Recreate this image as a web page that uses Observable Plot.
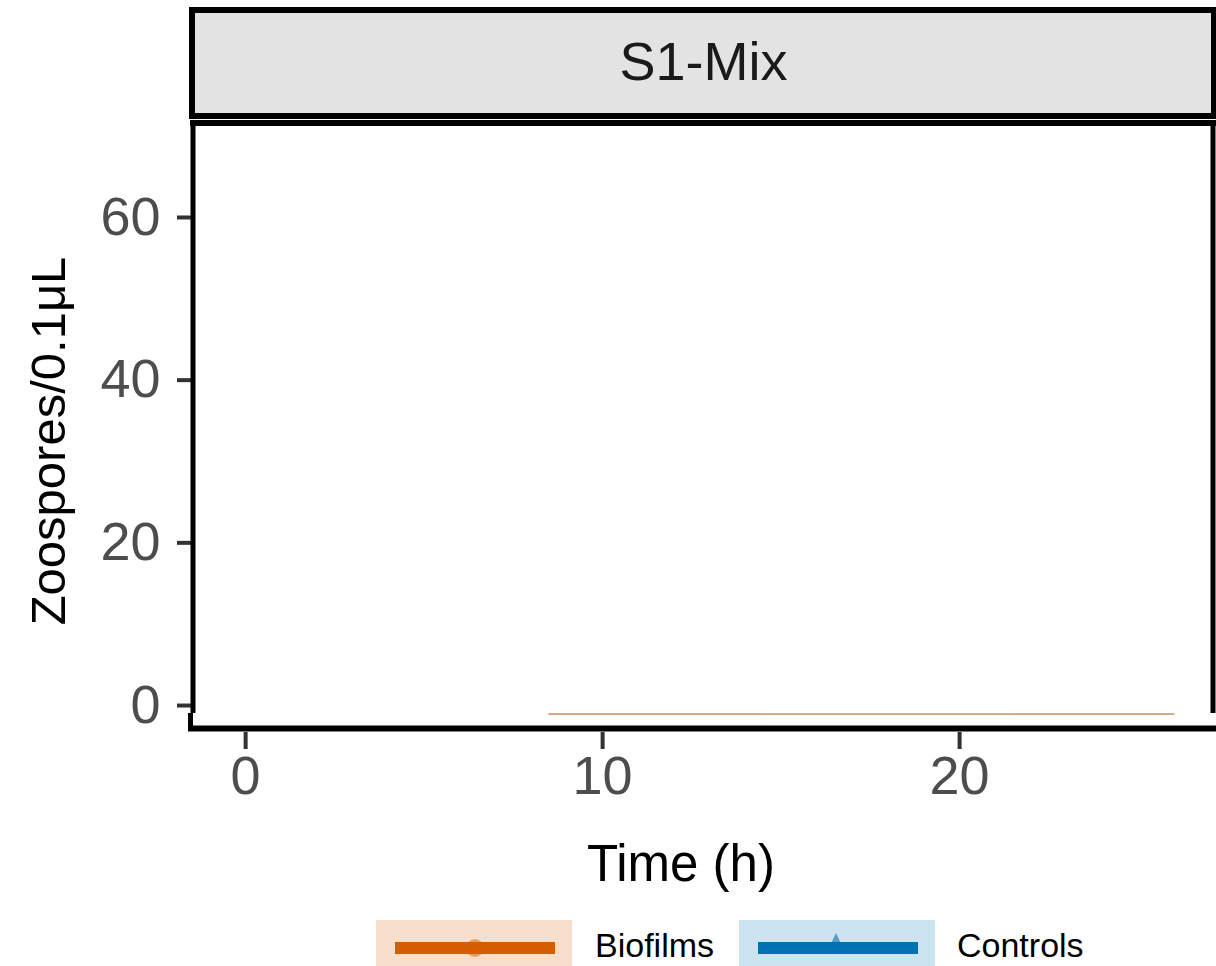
<!DOCTYPE html>
<html>
<head>
<meta charset="utf-8">
<script src="https://cdn.jsdelivr.net/npm/d3@7"></script>
<script src="https://cdn.jsdelivr.net/npm/@observablehq/plot@0.6"></script>
<style>
  body { margin: 0; background: #fff; font-family: "Liberation Sans", Arial, sans-serif; }
  #wrap { position: relative; width: 1216px; }
  #legend { position: relative; width: 1216px; height: 61px; overflow: hidden; }
  .box { position: absolute; top: 15px; height: 50px; }
  .lab { position: absolute; top: 20px; font-size: 34px; color: #000; line-height: 40px; }
</style>
</head>
<body>
<div id="wrap"></div>
<script>
// ---- data ----
const panelTitle = "S1-Mix";
const series = ["Biofilms", "Controls"];
const seriesColors = ["#D55E00", "#0072B2"];
const times = [8.5, 12, 16, 20, 24, 26];
const biofilmsValues = [-1.05, -1.05, -1.05, -1.05, -1.05, -1.05];
const controlsValues = [-1.05, -1.05, -1.05, -1.05, -1.05, -1.05];
const xTicks = [0, 10, 20];
const yTicks = [0, 20, 40, 60];
const xLabel = "Time (h)";
const yLabel = "Zoospores/0.1\u03bcL";

const rows = [];
times.forEach((t, i) => rows.push({time: t, value: controlsValues[i], group: series[1]}));
times.forEach((t, i) => rows.push({time: t, value: biofilmsValues[i], group: series[0]}));

const W = 1216, H = 905;
const ML = 193, MR = 2, MT = 121, MB = 192;

function decorations(index, scales, values, dims) {
  const g = d3.create("svg:g");
  const x0 = dims.marginLeft, x1 = dims.width - dims.marginRight;
  const yTop = dims.marginTop, yBot = dims.height - dims.marginBottom;
  // strip
  g.append("rect").attr("x", x0 - 1).attr("y", 10).attr("width", x1 - x0 + 1).attr("height", 106)
    .attr("fill", "#e3e3e3").attr("stroke", "#000").attr("stroke-width", 6);
  g.append("text").attr("x", (x0 + x1) / 2).attr("y", 61).attr("text-anchor", "middle")
    .attr("dominant-baseline", "central").attr("font-size", 54).attr("fill", "#1a1a1a")
    .text(panelTitle);
  // panel borders
  g.append("line").attr("x1", x0 - 3).attr("x2", x1 + 2).attr("y1", yTop + 2).attr("y2", yTop + 2)
    .attr("stroke", "#000").attr("stroke-width", 6);
  g.append("line").attr("x1", x0).attr("x2", x0).attr("y1", yTop).attr("y2", yBot)
    .attr("stroke", "#000").attr("stroke-width", 5);
  g.append("line").attr("x1", x1 - 1).attr("x2", x1 - 1).attr("y1", yTop).attr("y2", yBot)
    .attr("stroke", "#000").attr("stroke-width", 5);
  // offset bottom axis line + left stub
  g.append("line").attr("x1", x0 - 2.5).attr("x2", x0 - 2.5).attr("y1", yBot).attr("y2", yBot + 18)
    .attr("stroke", "#000").attr("stroke-width", 5);
  g.append("line").attr("x1", x0 - 5).attr("x2", dims.width).attr("y1", yBot + 15.5).attr("y2", yBot + 15.5)
    .attr("stroke", "#000").attr("stroke-width", 6);
  // axis titles
  g.append("text").attr("transform", `translate(48,441) rotate(-90)`)
    .attr("text-anchor", "middle").attr("dominant-baseline", "central")
    .attr("font-size", 49).attr("fill", "#000").text(yLabel);
  g.append("text").attr("x", 681).attr("y", 863)
    .attr("text-anchor", "middle").attr("dominant-baseline", "central")
    .attr("font-size", 51).attr("fill", "#000").text(xLabel);
  return g.node();
}

const chart = Plot.plot({
  width: W, height: H,
  marginLeft: ML, marginRight: MR, marginTop: MT, marginBottom: MB,
  style: {fontFamily: "'Liberation Sans', Arial, sans-serif", background: "#fff"},
  x: {domain: [-1.46, 27.14]},
  y: {domain: [-0.98, 71.8]},
  color: {domain: series, range: seriesColors},
  marks: [
    Plot.lineY(rows.filter(d => d.group === series[1]), {x: "time", y: "value",
      stroke: seriesColors[1], strokeWidth: 1.2, strokeOpacity: 0.25}),
    Plot.lineY(rows.filter(d => d.group === series[0]), {x: "time", y: "value",
      stroke: seriesColors[0], strokeWidth: 1.6, strokeOpacity: 0.6}),
    Plot.axisY({ticks: yTicks, tickSize: 16, tickPadding: 17, fontSize: 54,
      fill: "#4d4d4d", stroke: "#333", strokeWidth: 4, label: null, tickFormat: d => d}),
    Plot.axisX({ticks: xTicks, tickSize: 17, tickPadding: 6, dy: 19, fontSize: 54,
      fill: "#4d4d4d", stroke: "#333", strokeWidth: 4, label: null, tickFormat: d => d}),
    decorations
  ]
});
document.getElementById("wrap").appendChild(chart);

// legend below the svg
const legend = document.createElement("div");
legend.id = "legend";
const items = [
  {name: series[0], color: seriesColors[0], bg: "#f8dfcc", left: 376, shape: "circle", textLeft: 595},
  {name: series[1], color: seriesColors[1], bg: "#cce3f0", left: 739, shape: "triangle", textLeft: 957}
];
for (const it of items) {
  const box = document.createElement("div");
  box.className = "box";
  box.style.left = it.left + "px";
  box.style.width = "196px";
  box.style.background = it.bg;
  const s = d3.create("svg").attr("width", 196).attr("height", 50);
  s.append("line").attr("x1", 19).attr("x2", 179).attr("y1", 28).attr("y2", 28)
    .attr("stroke", it.color).attr("stroke-width", 12);
  if (it.shape === "circle") {
    s.append("circle").attr("cx", 99).attr("cy", 28).attr("r", 9)
      .attr("fill", it.color).attr("fill-opacity", 0.5);
  } else {
    s.append("path").attr("d", "M97,13 L107,34 L87,34 Z")
      .attr("fill", it.color).attr("fill-opacity", 0.6);
  }
  box.appendChild(s.node());
  legend.appendChild(box);
  const lab = document.createElement("div");
  lab.className = "lab";
  lab.style.left = it.textLeft + "px";
  lab.textContent = it.name;
  legend.appendChild(lab);
}
document.getElementById("wrap").appendChild(legend);
</script>
</body>
</html>
